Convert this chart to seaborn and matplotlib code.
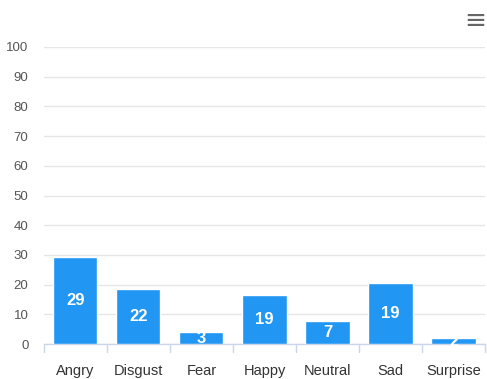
import matplotlib
matplotlib.use("Agg")
import matplotlib.pyplot as plt
import seaborn as sns
import pandas as pd

categories = ["Angry", "Disgust", "Fear", "Happy", "Neutral", "Sad", "Surprise"]
bar_values = [29.3, 18.6, 4.0, 16.6, 7.7, 20.6, 2.1]
label_values = [29, 22, 3, 19, 7, 19, 2]
y_ticks = [0, 10, 20, 30, 40, 50, 60, 70, 80, 90, 100]

sns.set_theme(style="white")
plt.rcParams["font.family"] = ["Liberation Sans", "DejaVu Sans"]

df = pd.DataFrame({"category": categories, "value": bar_values})

fig = plt.figure(figsize=(4.87, 3.79), dpi=100)
ax = fig.add_axes([0.090, 0.092, 0.906, 0.784])

sns.barplot(data=df, x="category", y="value", color="#2196F3", saturation=1,
            width=0.7, ax=ax, zorder=3)

ax.set_ylim(0, 100)
ax.set_yticks(y_ticks)
ax.set_yticklabels([str(t) for t in y_ticks], fontsize=9.5, color="#555555")
ax.yaxis.grid(True, color="#e6e6e6", linewidth=1, zorder=0)
ax.xaxis.grid(False)
ax.tick_params(axis="y", length=0, pad=11)
ax.tick_params(axis="x", length=0, pad=14, labelsize=10.5, labelcolor="#333333")
ax.set_xlabel("")
ax.set_ylabel("")
for s in ["top", "right", "left"]:
    ax.spines[s].set_visible(False)
ax.spines["bottom"].set_color("#ccd6eb")
ax.spines["bottom"].set_linewidth(1)
ax.set_xlim(-0.5, len(categories) - 0.5)

# category separator ticks
for i in range(len(categories) + 1):
    ax.plot([i - 0.5, i - 0.5], [0, -2.7], color="#ccd6eb", lw=1, clip_on=False)

for patch, lab in zip(ax.patches, label_values):
    cx = patch.get_x() + patch.get_width() / 2
    cy = patch.get_height() / 2
    ax.text(cx, cy, str(lab), ha="center", va="center", color="white",
            fontsize=12, fontweight="bold", zorder=4)

fig.text(0.977, 0.945, "\u2261", ha="center", va="center", fontsize=19,
         color="#666666", family="DejaVu Sans")

fig.savefig("out.png", dpi=100, facecolor="white")
